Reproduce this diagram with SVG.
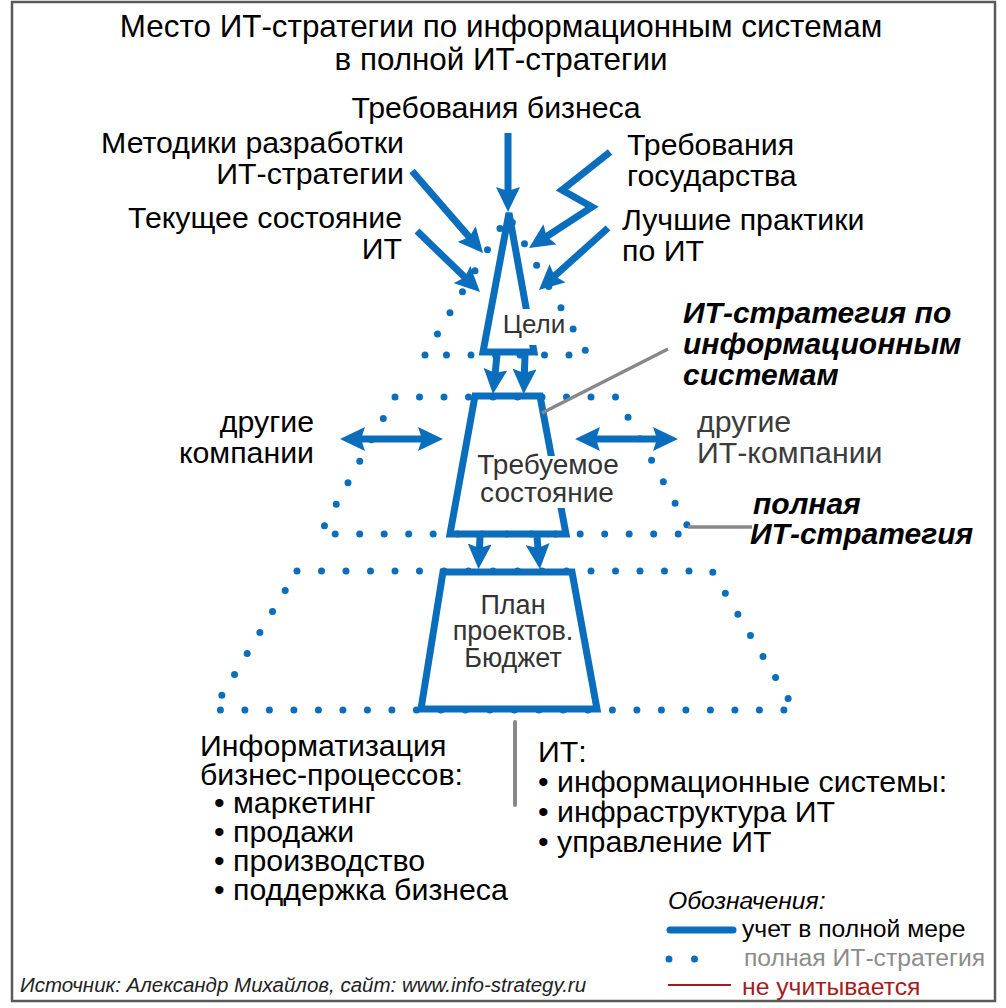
<svg xmlns="http://www.w3.org/2000/svg" width="1006" height="1008" viewBox="0 0 1006 1008">
<style>
text{font-family:"Liberation Sans",Arial,sans-serif;fill:#000}
.t{font-size:30.3px}
.title{font-size:31.4px}
.node{font-size:28px;fill:#333}
.bi{font-size:30px;font-weight:bold;font-style:italic}
.lg{font-size:24.7px}
.solid{fill:none;stroke:#0a6ebd;stroke-width:7;stroke-linejoin:miter}
.dots{fill:none;stroke:#0a6ebd;stroke-width:7;stroke-linecap:round;stroke-dasharray:0 24.5}
.arr{fill:none;stroke:#0a6ebd;stroke-width:7;marker-end:url(#ah)}
.darr{fill:none;stroke:#0a6ebd;stroke-width:7;marker-end:url(#ah);marker-start:url(#ahs)}
.lead{fill:none;stroke:#888;stroke-width:3.5}
</style>
<defs>
<marker id="ah" markerUnits="userSpaceOnUse" viewBox="0 0 25 24" markerWidth="25" markerHeight="24" refX="15" refY="12" orient="auto">
<path d="M0,0 L25,12 L0,24 L4,12 z" fill="#0a6ebd"/>
</marker>
<marker id="ahs" markerUnits="userSpaceOnUse" viewBox="0 0 25 24" markerWidth="25" markerHeight="24" refX="15" refY="12" orient="auto-start-reverse">
<path d="M0,0 L25,12 L0,24 L4,12 z" fill="#0a6ebd"/>
</marker>
</defs>
<rect x="0" y="0" width="1006" height="1008" fill="#fff"/>
<rect id="frame" x="12" y="2" width="983" height="999" fill="none" stroke="#5a5a5a" stroke-width="2.5"/>

<g id="title">
<text class="title" x="501" y="37" text-anchor="middle">Место ИТ-стратегии по информационным системам</text>
<text class="title" x="501" y="70" text-anchor="middle">в полной ИТ-стратегии</text>
</g>

<g id="full-strategy-outline">
<path class="dots" d="M425,355 L508,215 L588,355 Z"/>
<path class="dots" d="M395,397 L617,397 L692,534 L320,534 Z"/>
<path class="dots" d="M297,571 L712,571 L795,710 L213,710 Z"/>
</g>

<g id="goals">
<path class="solid" d="M509,213 L534,352 L483,352 Z"/>
<rect x="499" y="309" width="46" height="36" fill="#fff"/>
<text x="534" y="333" text-anchor="middle" style="font-size:26px;fill:#333">Цели</text>
</g>

<g id="required-state">
<path class="solid" d="M475,396 L540,396 L566,534 L450,534 Z"/>
<rect x="472" y="456" width="128" height="52" fill="#fff"/>
<text class="node" x="548" y="474" text-anchor="middle">Требуемое</text>
<text class="node" x="547" y="502" text-anchor="middle">состояние</text>
</g>

<g id="plan">
<path class="solid" d="M443,572 L572,572 L597,709 L421,709 Z"/>
<text class="node" x="513" y="614" text-anchor="middle" style="font-size:27px">План</text>
<text class="node" x="513" y="640" text-anchor="middle" style="font-size:27px">проектов.</text>
<text class="node" x="513" y="667" text-anchor="middle" style="font-size:27px">Бюджет</text>
</g>

<g id="inputs">
<text class="t" x="496" y="118" text-anchor="middle">Требования бизнеса</text>
<text class="t" x="404" y="153" text-anchor="end">Методики разработки</text>
<text class="t" x="404" y="184" text-anchor="end">ИТ-стратегии</text>
<text class="t" x="402" y="228" text-anchor="end">Текущее состояние</text>
<text class="t" x="402" y="259" text-anchor="end">ИТ</text>
<text class="t" x="627" y="155">Требования</text>
<text class="t" x="627" y="186">государства</text>
<text class="t" x="622" y="230">Лучшие практики</text>
<text class="t" x="622" y="261">по ИТ</text>
</g>

<g id="partners">
<text class="t" x="314" y="432" text-anchor="end">другие</text>
<text class="t" x="314" y="463" text-anchor="end">компании</text>
<text class="t" x="697" y="432" style="fill:#3c3c3c">другие</text>
<text class="t" x="697" y="463" style="fill:#3c3c3c">ИТ-компании</text>
</g>

<g id="callouts">
<text class="bi" x="683" y="323">ИТ-стратегия по</text>
<text class="bi" x="683" y="354">информационным</text>
<text class="bi" x="683" y="385">системам</text>
<text class="bi" x="753" y="514">полная</text>
<text class="bi" x="750" y="544">ИТ-стратегия</text>
</g>

<g id="connectors">
<path class="arr" d="M508,133 L508,202"/>
<path class="arr" d="M412,171 L476.5,245.4"/>
<path class="arr" d="M417,231 L472.8,285"/>
<path class="arr" d="M610,152 L562,190 L592,207 L537.4,242.5"/>
<path class="arr" d="M608,228 L546.4,283.3"/>
<path class="arr" d="M497,355 L494,384"/>
<path class="arr" d="M525,355 L524,384"/>
<path class="arr" d="M480,537 L479,559"/>
<path class="arr" d="M537,537 L539,559"/>
<path class="darr" d="M350,439 L433,439"/>
<path class="darr" d="M585,439 L668,439"/>
<path class="lead" d="M542,413 L668,349"/>
<path class="lead" d="M688,527 L752,527"/>
<path d="M515,722 L515,805" fill="none" stroke="#888" stroke-width="4" stroke-linecap="round"/>
</g>

<g id="business-list">
<text class="t" x="200" y="756">Информатизация</text>
<text class="t" x="200" y="785">бизнес-процессов:</text>
<text class="t" x="214" y="813">• маркетинг</text>
<text class="t" x="214" y="842">• продажи</text>
<text class="t" x="214" y="871">• производство</text>
<text class="t" x="214" y="900">• поддержка бизнеса</text>
</g>

<g id="it-list">
<text class="t" x="538" y="762">ИТ:</text>
<text class="t" x="538" y="792">• информационные системы:</text>
<text class="t" x="538" y="822">• инфраструктура ИТ</text>
<text class="t" x="538" y="852">• управление ИТ</text>
</g>

<g id="legend">
<text class="lg" x="668" y="909" style="font-style:italic">Обозначения:</text>
<path d="M670,930 L733,930" fill="none" stroke="#0a6ebd" stroke-width="7" stroke-linecap="round"/>
<text class="lg" x="742" y="937">учет в полной мере</text>
<path d="M669,959 L720,959" fill="none" stroke="#0a6ebd" stroke-width="7" stroke-linecap="round" stroke-dasharray="0 25.5"/>
<text class="lg" x="744" y="966" style="fill:#8c8c8c">полная ИТ-стратегия</text>
<path d="M668,985 L731,985" fill="none" stroke="#a51c1c" stroke-width="2"/>
<text class="lg" x="742" y="995" style="fill:#a51c1c">не учитывается</text>
</g>

<text x="20" y="992" style="font-size:20.5px;font-style:italic;fill:#222">Источник: Александр Михайлов, сайт: www.info-strategy.ru</text>
</svg>
